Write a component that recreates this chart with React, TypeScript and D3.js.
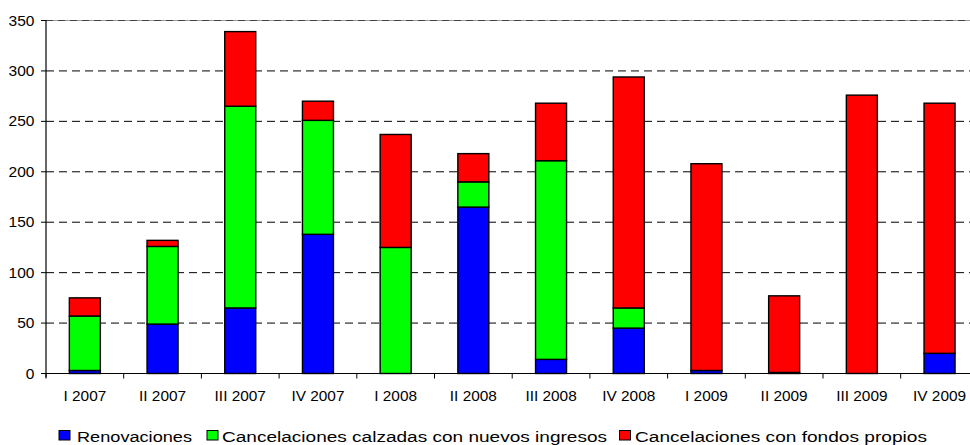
import React from "react";
import * as d3 from "d3";

const categories = [
  "I 2007", "II 2007", "III 2007", "IV 2007",
  "I 2008", "II 2008", "III 2008", "IV 2008",
  "I 2009", "II 2009", "III 2009", "IV 2009",
];
const renovaciones = [3, 49, 65, 138, 0, 165, 14, 45, 3, 1, 0, 20];
const calzadas = [54, 77, 200, 113, 125, 25, 197, 20, 0, 0, 0, 0];
const propios = [18, 6, 74, 19, 112, 28, 57, 229, 205, 76, 276, 248];
const seriesNames = [
  "Renovaciones",
  "Cancelaciones calzadas con nuevos ingresos",
  "Cancelaciones con fondos propios",
];
const seriesColors = ["#0000FF", "#00FF00", "#FF0000"];
const yTicks = [0, 50, 100, 150, 200, 250, 300, 350];

const W = 970;
const H = 445;
const left = 46;
const bandW = 77.7;
const top = 20.5;
const bottom = 373.5;
const FONT = "'Liberation Sans', Arial, Helvetica, sans-serif";

export default function App() {
  const x = d3
    .scaleBand<string>()
    .domain(categories)
    .range([left, left + bandW * categories.length])
    .paddingInner(0)
    .paddingOuter(0);
  const y = d3.scaleLinear().domain([0, 350]).range([bottom, top]);

  const rows = categories.map((c, i) => ({
    cat: c,
    r: renovaciones[i],
    g: calzadas[i],
    p: propios[i],
  }));
  const stack = d3.stack<any>().keys(["r", "g", "p"])(rows);

  const barW = 31;

  const legend = [
    { sx: 59, tx: 77, len: 115 },
    { sx: 207, tx: 222, len: 385 },
    { sx: 619.5, tx: 635, len: 292 },
  ];

  return (
    <svg
      width={W}
      height={H}
      style={{ position: "absolute", left: 0, top: 0, background: "#fff" }}
      fontFamily={FONT}
    >
      <rect x={0} y={0} width={W} height={H} fill="#fff" />
      {yTicks
        .filter((t) => t > 0 && t < 350)
        .map((t) => (
          <line
            key={t}
            x1={left}
            x2={W}
            y1={y(t)}
            y2={y(t)}
            stroke="#000"
            strokeWidth={1}
            strokeDasharray="8,5"
          />
        ))}
      <line x1={left} x2={W} y1={y(350)} y2={y(350)} stroke="#999" strokeWidth={1} />
      <line
        x1={left}
        x2={W}
        y1={y(350)}
        y2={y(350)}
        stroke="#444"
        strokeWidth={1}
        strokeDasharray="7,5"
      />
      {stack.map((s, si) => (
        <g key={si}>
          {s.map((d, i) => {
            const v = d[1] - d[0];
            if (v <= 0) return null;
            const cx = (x(categories[i]) as number) + x.bandwidth() / 2;
            return (
              <rect
                key={i}
                x={cx - barW / 2}
                y={y(d[1])}
                width={barW}
                height={y(d[0]) - y(d[1])}
                fill={seriesColors[si]}
                stroke="#000"
                strokeWidth={1.4}
              />
            );
          })}
        </g>
      ))}
      <line x1={left} x2={left} y1={top - 0.5} y2={bottom + 4} stroke="#000" strokeWidth={1.2} />
      {yTicks.map((t) => (
        <g key={t}>
          <line x1={left - 5} x2={left} y1={y(t)} y2={y(t)} stroke="#000" strokeWidth={1} />
          <text
            transform={`translate(34.5, ${y(t) + 5}) scale(1.11,1)`}
            textAnchor="end"
            fontSize={14}
            fill="#000"
          >
            {t}
          </text>
        </g>
      ))}
      <line x1={left} x2={W} y1={bottom} y2={bottom} stroke="#000" strokeWidth={1.2} />
      {categories.map((c, i) => {
        const bx = x(c) as number;
        const cx = bx + x.bandwidth() / 2;
        return (
          <g key={c}>
            <line x1={bx} x2={bx} y1={bottom} y2={bottom + 5} stroke="#000" strokeWidth={1} />
            <text
              transform={`translate(${cx}, 400.5) scale(1.1,1)`}
              textAnchor="middle"
              fontSize={14}
              fill="#000"
            >
              {c}
            </text>
          </g>
        );
      })}
      {seriesNames.map((n, i) => (
        <g key={n}>
          <rect
            x={legend[i].sx}
            y={430.5}
            width={11}
            height={9.5}
            fill={seriesColors[i]}
            stroke="#000"
            strokeWidth={1}
          />
          <text
            x={legend[i].tx}
            y={441.5}
            fontSize={15.5}
            textLength={legend[i].len}
            lengthAdjust="spacingAndGlyphs"
            fill="#000"
          >
            {n}
          </text>
        </g>
      ))}
    </svg>
  );
}
